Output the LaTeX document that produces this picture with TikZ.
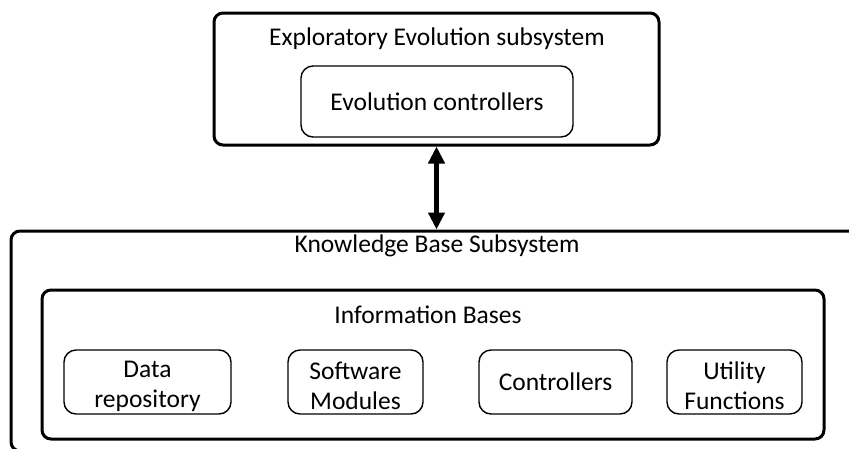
\documentclass[tikz,border=0pt]{standalone}
\usepackage{fontspec}
\setmainfont{Carlito}
\usetikzlibrary{arrows.meta}
\begin{document}
\begin{tikzpicture}[x=1pt,y=-1pt,
  labelfont/.style={font=\fontsize{25.5}{30}\selectfont},
  heavybox/.style={draw, line width=3pt, rounded corners=9pt, inner sep=0pt},
  lightbox/.style={draw, line width=1.4pt, rounded corners=12pt, inner sep=0pt,
    align=center, labelfont, minimum height=64pt},
  twolines/.style={labelfont, align=center, inner sep=0pt},
  caption/.style={labelfont, inner sep=0pt, anchor=base},
  link/.style={line width=4.5pt, {Triangle[length=17pt,width=16pt]}-{Triangle[length=17pt,width=16pt]}}
]
\useasboundingbox (0,0) rectangle (849,448);
\clip (0,0) rectangle (849,448);

% upper subsystem
\node[heavybox, minimum width=445pt, minimum height=132pt] (evo) at (436.5,79) {};
\node[caption] (evotitle) at (437,45.5) {Exploratory Evolution subsystem};
\node[lightbox, minimum width=272pt, minimum height=71pt] (evoctl) at (437,101.5) {Evolution controllers};

% lower subsystem (runs past the right and bottom edges)
\node[heavybox, minimum width=869pt, minimum height=220pt] (kb) at (445.5,341) {};
\node[caption] (kbtitle) at (437,252.5) {Knowledge Base Subsystem};

% information bases
\node[heavybox, minimum width=782pt, minimum height=149pt] (ib) at (433,364.5) {};
\node[caption] (ibtitle) at (428,323) {Information Bases};

\node[lightbox, minimum width=167pt] (data) at (147.5,382) {};
\node[lightbox, minimum width=135pt] (soft) at (355.5,382) {};
\node[lightbox, minimum width=153pt] (ctl) at (555.5,382) {Controllers};
\node[lightbox, minimum width=135pt] (util) at (734.5,382) {};

\node[twolines] (datatext) at ([yshift=-4pt]data.center) {Data\\repository};
\node[twolines] (softtext) at ([yshift=-4pt]soft.center) {Software\\Modules};
\node[twolines] (utiltext) at ([yshift=-4pt]util.center) {Utility\\Functions};

% two-way link between the subsystems
\draw[link] (evo.south) -- (evo.south |- kb.north);
\end{tikzpicture}
\end{document}
